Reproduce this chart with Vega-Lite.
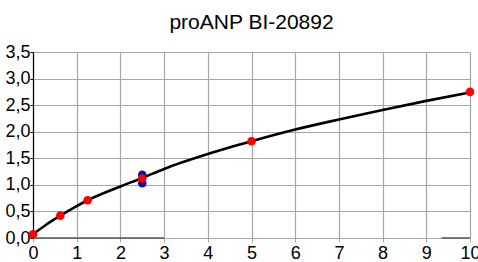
{
  "$schema": "https://vega.github.io/schema/vega-lite/v6.json",
  "autosize": "none",
  "width": 437,
  "height": 186,
  "padding": {"left": 33, "top": 52, "right": 8, "bottom": 24},
  "background": "white",
  "title": {"text": "proANP BI-20892", "font": "Arial", "fontSize": 21, "fontWeight": "normal", "color": "black", "anchor": "middle", "offset": 10},
  "config": {
    "view": {"stroke": null},
    "axis": {"labelFont": "Arial", "labelFontSize": 18, "labelColor": "black", "gridColor": "#a6a6a6", "gridOpacity": 1, "gridWidth": 1.2, "labelOverlap": false},
    "axisY": {"labelOverlap": false}
  },
  "datasets": {
    "curve": [
      {"x": 0, "y": 0.07}, {"x": 0.3, "y": 0.25}, {"x": 0.625, "y": 0.42}, {"x": 1.0, "y": 0.6}, {"x": 1.25, "y": 0.71},
      {"x": 2, "y": 0.97}, {"x": 2.5, "y": 1.13}, {"x": 3, "y": 1.3}, {"x": 4, "y": 1.58}, {"x": 5, "y": 1.82},
      {"x": 6, "y": 2.04}, {"x": 7, "y": 2.23}, {"x": 8, "y": 2.41}, {"x": 9, "y": 2.58}, {"x": 10, "y": 2.74}
    ],
    "points": [
      {"x": 2.5, "y": 1.19, "s": "rep"}, {"x": 2.5, "y": 1.03, "s": "rep"},
      {"x": 0, "y": 0.07, "s": "mean"}, {"x": 0.625, "y": 0.42, "s": "mean"}, {"x": 1.25, "y": 0.71, "s": "mean"},
      {"x": 2.5, "y": 1.12, "s": "mean"}, {"x": 5, "y": 1.82, "s": "mean"}, {"x": 10, "y": 2.75, "s": "mean"}
    ],
    "base": [{"x": 0, "x2": 3, "y": 0}, {"x": 9.35, "x2": 10, "y": 0}]
  },
  "encoding": {
    "x": {"field": "x", "type": "quantitative", "scale": {"domain": [0, 10], "nice": false},
      "axis": {"values": [0,1,2,3,4,5,6,7,8,9,10], "title": null, "domain": false, "tickColor": "#a6a6a6", "tickSize": 4, "labelPadding": 2, "grid": true, "labelOverlap": false, "labelFlush": false}},
    "y": {"field": "y", "type": "quantitative", "scale": {"domain": [0, 3.5], "nice": false},
      "axis": {"values": [0,0.5,1,1.5,2,2.5,3,3.5], "title": null, "domainColor": "black", "domainWidth": 1.2, "tickColor": "black", "tickSize": 3, "labelPadding": 0, "labelOverlap": false, "labelFlush": false,
        "labelExpr": "replace(format(datum.value, '.1f'), '.', ',')"}}
  },
  "layer": [
    {
      "data": {"name": "curve"},
      "mark": {"type": "line", "color": "black", "strokeWidth": 2.6, "interpolate": "monotone", "clip": true}
    },
    {
      "data": {"name": "base"},
      "mark": {"type": "rule", "color": "#555555", "strokeWidth": 1.5},
      "encoding": {
        "x2": {"field": "x2"}
      }
    },
    {
      "data": {"name": "points"},
      "mark": {"type": "point", "shape": "circle", "filled": true, "opacity": 1, "size": 75},
      "encoding": {
        "color": {"field": "s", "type": "nominal", "scale": {"domain": ["rep", "mean"], "range": ["#1010a0", "#ff0000"]}, "legend": null},
        "order": {"field": "s", "sort": "descending"}
      }
    }
  ]
}
